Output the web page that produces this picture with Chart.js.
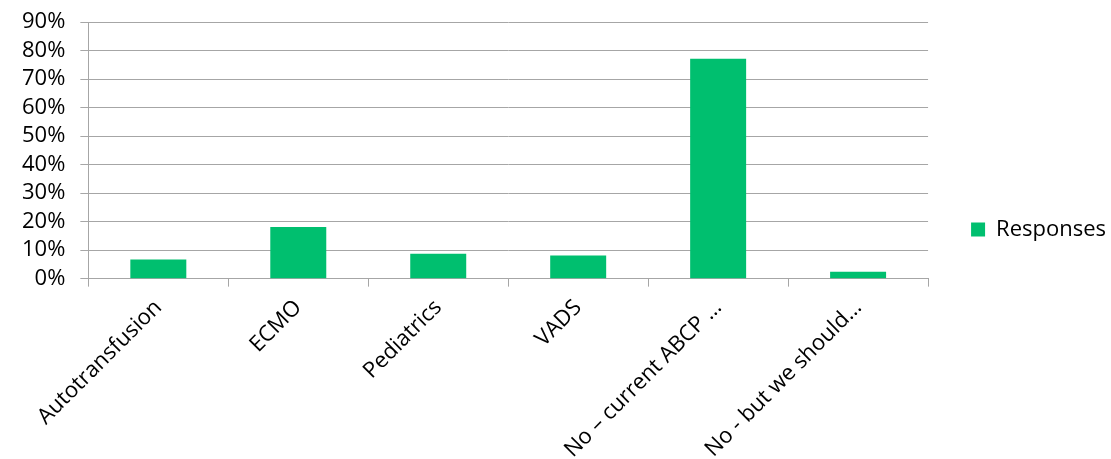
<!DOCTYPE html>
<html>
<head>
<meta charset="utf-8">
<script src="https://cdn.jsdelivr.net/npm/chart.js@4/dist/chart.umd.min.js"></script>
<style>
html,body{margin:0;padding:0;background:#fff;}
#wrap{width:1111px;height:459px;position:relative;}
</style>
</head>
<body>
<div id="wrap"><canvas id="c" width="1111" height="459"></canvas></div>
<script>
const categories = ["Autotransfusion", "ECMO", "Pediatrics", "VADS", "No \u2013 current ABCP \u2026", "No - but we should\u2026"];
const responses = [6.7, 18.1, 8.7, 8.1, 77.2, 2.4];
const seriesName = "Responses";
const yTicks = [0, 10, 20, 30, 40, 50, 60, 70, 80, 90];

const FONT = "'Open Sans', 'Liberation Sans', sans-serif";
const GRID = "#a6a6a6";

new Chart(document.getElementById('c'), {
  type: 'bar',
  data: {
    labels: categories,
    datasets: [{
      label: seriesName,
      data: responses,
      backgroundColor: '#00bf6f',
      borderWidth: 0,
      categoryPercentage: 1.0,
      barPercentage: 0.4
    }]
  },
  options: {
    responsive: false,
    animation: false,
    layout: { padding: { left: 7, top: 0, right: -5, bottom: 0 } },
    plugins: {
      tooltip: { enabled: false },
      legend: {
        position: 'right',
        labels: {
          boxWidth: 14, boxHeight: 14, padding: 43,
          color: '#000',
          font: { family: FONT, size: 22 }
        }
      }
    },
    scales: {
      x: {
        afterFit: (scale) => { scale.height -= 12; },
        grid: { display: true, drawOnChartArea: false, color: GRID, tickLength: 8, offset: true },
        border: { color: GRID, width: 1 },
        ticks: {
          color: '#000', minRotation: 45, maxRotation: 45, autoSkip: false, padding: 8,
          font: { family: FONT, size: 22 }
        }
      },
      y: {
        min: 0, max: 90,
        afterBuildTicks: (axis) => { axis.ticks = yTicks.map(v => ({ value: v })); },
        grid: { color: GRID, tickLength: 8, lineWidth: 1 },
        border: { color: GRID, width: 1 },
        ticks: {
          color: '#000', padding: 15, autoSkip: false,
          font: { family: FONT, size: 22, lineHeight: 0.65 },
          callback: (v) => v + '%'
        }
      }
    }
  }
});
</script>
</body>
</html>
